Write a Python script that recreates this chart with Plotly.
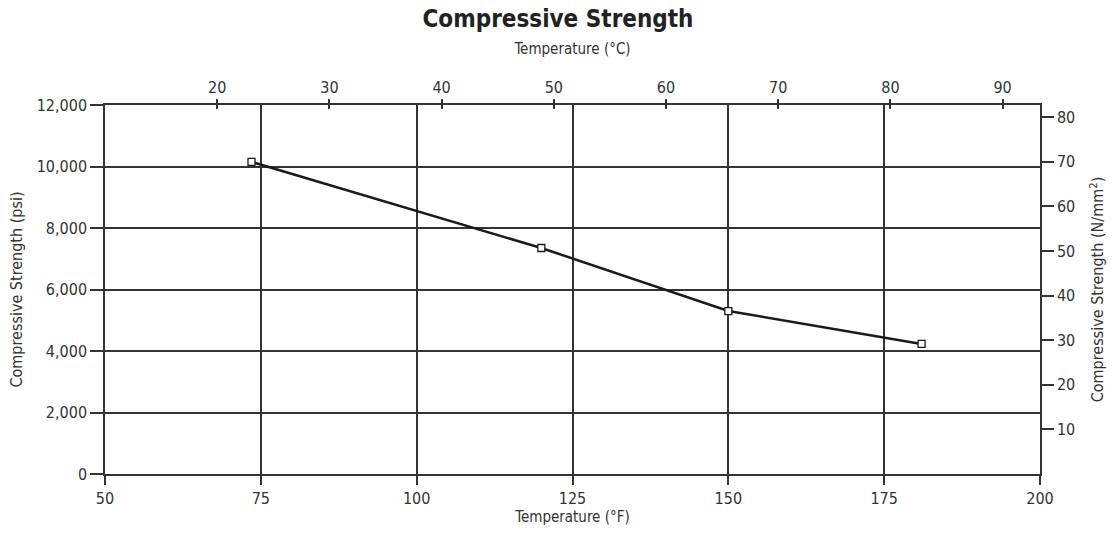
import plotly.graph_objects as go

# Compressive strength vs. temperature
temp_f = [73.5, 120, 150, 181]
strength_psi = [10150, 7350, 5300, 4230]

x_ticks_f = [50, 75, 100, 125, 150, 175, 200]
y_ticks_psi = [0, 2000, 4000, 6000, 8000, 10000, 12000]
y_tick_labels_psi = ["0", "2,000", "4,000", "6,000", "8,000", "10,000", "12,000"]
x_ticks_c = [20, 30, 40, 50, 60, 70, 80, 90]
y_ticks_mpa = [10, 20, 30, 40, 50, 60, 70, 80]

F_RANGE = [50, 200]
PSI_RANGE = [0, 12000]
PSI_TO_MPA = 0.00689476
C_RANGE = [(F_RANGE[0] - 32) / 1.8, (F_RANGE[1] - 32) / 1.8]
MPA_RANGE = [PSI_RANGE[0] * PSI_TO_MPA, PSI_RANGE[1] * PSI_TO_MPA]

FONT = "DejaVu Sans Condensed, Liberation Sans Narrow, Arial Narrow, sans-serif"
LINE = "#333333"
TXT = "#333333"

fig = go.Figure()
fig.add_trace(go.Scatter(
    x=temp_f, y=strength_psi, mode="lines+markers",
    line=dict(color="#1a1a1a", width=2.5),
    marker=dict(symbol="square", size=7, color="white",
                line=dict(color="#1a1a1a", width=1.3)),
    showlegend=False, hoverinfo="x+y",
))
# invisible traces to bind the secondary (metric) axes
fig.add_trace(go.Scatter(x=C_RANGE, y=[None, None], xaxis="x2", yaxis="y",
                         showlegend=False, hoverinfo="skip"))
fig.add_trace(go.Scatter(x=C_RANGE, y=[None, None], xaxis="x3", yaxis="y",
                         showlegend=False, hoverinfo="skip"))
fig.add_trace(go.Scatter(x=F_RANGE, y=[None, None], xaxis="x", yaxis="y2",
                         showlegend=False, hoverinfo="skip"))

tickfont = dict(family=FONT, size=16, color=TXT)
xtitlefont = dict(family=FONT, size=15, color=TXT)
ytitlefont = dict(family=FONT, size=16, color=TXT)

fig.update_layout(
    width=1116, height=534,
    margin=dict(l=105, r=76, t=105, b=60),
    paper_bgcolor="white", plot_bgcolor="white",
    font=dict(family=FONT, color=TXT),
    title=dict(text="<b>Compressive Strength</b>", x=0.5, xanchor="center",
               y=0.965, yanchor="middle",
               font=dict(family=FONT, size=24, color="#222222")),
    xaxis=dict(
        range=F_RANGE, tickvals=x_ticks_f, ticks="outside", ticklen=9,
        tickcolor=LINE, tickwidth=1.5, showgrid=True, gridcolor=LINE, gridwidth=1.5,
        showline=True, linecolor=LINE, linewidth=1.5, zeroline=False,
        tickfont=tickfont,
        title=dict(text="Temperature (°F)", font=xtitlefont, standoff=5),
    ),
    yaxis=dict(
        range=PSI_RANGE, tickvals=y_ticks_psi, ticktext=y_tick_labels_psi,
        ticks="outside", ticklen=13, tickcolor=LINE, tickwidth=1.5,
        showgrid=True, gridcolor=LINE, gridwidth=1.5,
        showline=True, linecolor=LINE, linewidth=1.5, zeroline=False,
        tickfont=tickfont,
        title=dict(text="Compressive Strength (psi)", font=ytitlefont, standoff=10),
    ),
    xaxis2=dict(
        range=C_RANGE, tickvals=x_ticks_c, side="top", overlaying="x", anchor="y",
        ticks="outside", ticklen=4, tickcolor=LINE, tickwidth=1.5,
        showgrid=False, showline=True, linecolor=LINE, linewidth=1.5, zeroline=False,
        tickfont=tickfont,
        title=dict(text="Temperature (°C)", font=xtitlefont, standoff=20),
    ),
    xaxis3=dict(
        range=C_RANGE, tickvals=x_ticks_c, side="top", overlaying="x", anchor="y",
        ticks="inside", ticklen=4, tickcolor=LINE, tickwidth=1.5,
        showgrid=False, showline=False, zeroline=False, showticklabels=False,
    ),
    yaxis2=dict(
        range=MPA_RANGE, tickvals=y_ticks_mpa, side="right", overlaying="y", anchor="x",
        ticks="outside", ticklen=12, tickcolor=LINE, tickwidth=1.5,
        showgrid=False, showline=True, linecolor=LINE, linewidth=1.5, zeroline=False,
        tickfont=tickfont,
        title=dict(text="Compressive Strength (N/mm<sup>2</sup>)", font=ytitlefont, standoff=18),
    ),
)

fig.write_html("out.html")
